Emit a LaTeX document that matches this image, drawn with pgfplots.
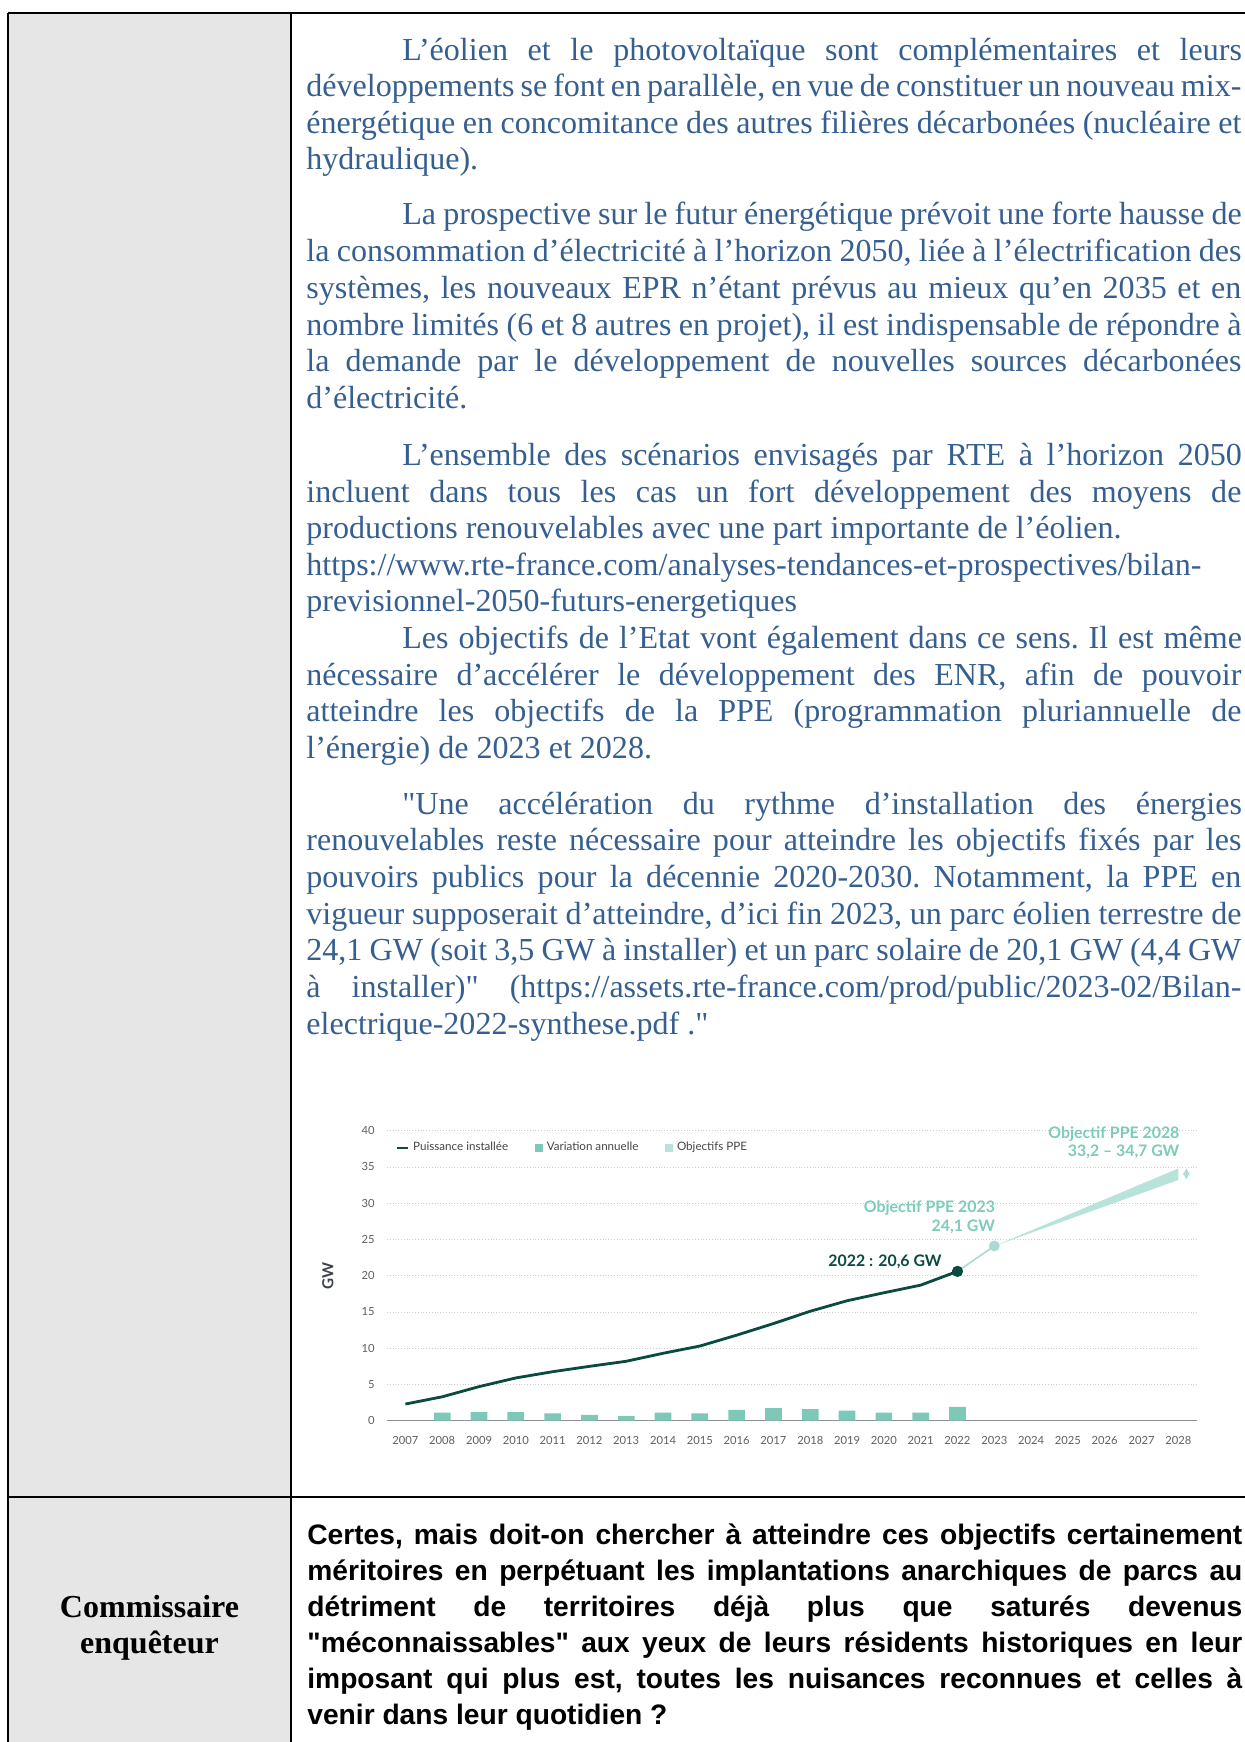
\documentclass[border=0pt]{standalone}
\usepackage{fontspec}
\newfontfamily\bodyrm{Liberation Serif}
\newfontfamily\lsans{Liberation Sans}
\newfontfamily\chart{Lato}
\usepackage{pgfplots}
\pgfplotsset{compat=1.18}
\definecolor{txtblue}{RGB}{54,95,145}
\definecolor{cellgray}{RGB}{230,230,230}
\definecolor{darkgreen}{RGB}{10,75,65}
\definecolor{barteal}{RGB}{125,200,183}
\definecolor{bandteal}{RGB}{183,227,218}
\definecolor{objmark}{RGB}{170,219,210}
\definecolor{objtext}{RGB}{124,203,187}
\definecolor{gridgray}{RGB}{205,205,205}
\definecolor{axgray}{RGB}{140,145,150}
\definecolor{tickgray}{RGB}{95,95,95}
\definecolor{gwgray}{RGB}{60,66,72}
\definecolor{legtext}{RGB}{70,70,70}
\newlength\calw
\newcommand\calib[4]{\settowidth\calw{#2\fontsize{10pt}{12pt}\selectfont #3}\pgfmathsetmacro#1{10*#4/\calw}}
\newcommand\bodyfont{\bodyrm\frenchspacing\fontsize{\bodysz pt}{\bodysz pt}\selectfont}
\newcommand\botfont{\lsans\bfseries\frenchspacing\fontsize{\botsz pt}{\botsz pt}\selectfont}
\newcommand\comfont{\bodyrm\bfseries\fontsize{\comsz pt}{\comsz pt}\selectfont}
\newcommand\tickfont{\chart\fontsize{\ticksz pt}{\ticksz pt}\selectfont}
\newcommand\legfont{\chart\fontsize{\legsz pt}{\legsz pt}\selectfont}
\newcommand\annfont{\chart\bfseries\fontsize{\annsz pt}{\annsz pt}\selectfont}
\newcommand\gwfont{\chart\bfseries\fontsize{\gwsz pt}{\gwsz pt}\selectfont}
\tikzset{body/.style={anchor=base west,inner sep=0pt,text=txtblue,font=\bodyfont},
  bot/.style={anchor=base west,inner sep=0pt,text=black,font=\botfont}}
\newcommand\FL[2]{\node[body] at (306,#1) {\makebox[467.5pt][s]{#2}};}
\newcommand\IL[2]{\node[body] at (402,#1) {\makebox[419.75pt][s]{#2}};}
\newcommand\NL[2]{\node[body] at (306,#1) {#2};}
\newcommand\BL[2]{\node[bot] at (307,#1) {\makebox[467.5pt][s]{#2}};}
\begin{document}%
\calib{\bodysz}{\bodyrm}{https://www.rte-france.com/analyses-tendances-et-prospectives/bilan-}{447.5}%
\calib{\botsz}{\lsans\bfseries}{venir dans leur quotidien ?}{180}%
\calib{\comsz}{\bodyrm\bfseries}{Commissaire}{89.5}%
\calib{\ticksz}{\chart}{2007}{13}%
\calib{\legsz}{\chart}{Puissance installée}{47.5}%
\calib{\annsz}{\chart\bfseries}{Objectif PPE 2028}{65.5}%
\calib{\gwsz}{\chart\bfseries}{GW}{13.5}%
\begin{tikzpicture}
\useasboundingbox (0pt,0pt) rectangle (622.5pt,-871pt);
\fill[white] (0pt,0pt) rectangle (622.5pt,-871pt);
\begin{scope}[x=0.5pt,y=-0.5pt]
\fill[cellgray] (8,13) rectangle (291,1742);
\draw[line width=1.4pt] (8,13) -- (1250,13);
\draw[line width=1.4pt] (8,13) -- (8,1750);
\draw[line width=1.4pt] (291,13) -- (291,1750);
\draw[line width=1.4pt] (8,1497) -- (1250,1497);
% P1
\IL{60.0}{L’éolien et le photovoltaïque sont complémentaires et leurs}
\FL{96.6}{développements se font en parallèle, en vue de constituer un nouveau mix-}
\FL{133.3}{énergétique en concomitance des autres filières décarbonées (nucléaire et}
\NL{169.9}{hydraulique).}
% P2
\IL{224.3}{La prospective sur le futur énergétique prévoit une forte hausse de}
\FL{261.2}{la consommation d’électricité à l’horizon 2050, liée à l’électrification des}
\FL{298.1}{systèmes, les nouveaux EPR n’étant prévus au mieux qu’en 2035 et en}
\FL{335.0}{nombre limités (6 et 8 autres en projet), il est indispensable de répondre à}
\FL{371.8}{la demande par le développement de nouvelles sources décarbonées}
\NL{408.7}{d’électricité.}
% P3
\IL{465.3}{L’ensemble des scénarios envisagés par RTE à l’horizon 2050}
\FL{502.0}{incluent dans tous les cas un fort développement des moyens de}
\NL{538.6}{productions renouvelables avec une part importante de l’éolien.}
\NL{575.3}{https://www.rte-france.com/analyses-tendances-et-prospectives/bilan-}
\NL{611.9}{previsionnel-2050-futurs-energetiques}
\IL{648.6}{Les objectifs de l’Etat vont également dans ce sens. Il est même}
\FL{685.2}{nécessaire d’accélérer le développement des ENR, afin de pouvoir}
\FL{721.9}{atteindre les objectifs de la PPE (programmation pluriannuelle de}
\NL{758.5}{l’énergie) de 2023 et 2028.}
% P4
\IL{814.1}{"Une accélération du rythme d’installation des énergies}
\FL{850.7}{renouvelables reste nécessaire pour atteindre les objectifs fixés par les}
\FL{887.4}{pouvoirs publics pour la décennie 2020-2030. Notamment, la PPE en}
\FL{924.0}{vigueur supposerait d’atteindre, d’ici fin 2023, un parc éolien terrestre de}
\FL{960.7}{24,1 GW (soit 3,5 GW à installer) et un parc solaire de 20,1 GW (4,4 GW}
\FL{997.3}{à installer)" (https://assets.rte-france.com/prod/public/2023-02/Bilan-}
\NL{1034.0}{electrique-2022-synthese.pdf ."}
% bottom row
\BL{1544}{Certes, mais doit-on chercher à atteindre ces objectifs certainement}
\BL{1580}{méritoires en perpétuant les implantations anarchiques de parcs au}
\BL{1616}{détriment de territoires déjà plus que saturés devenus}
\BL{1652}{"méconnaissables" aux yeux de leurs résidents historiques en leur}
\BL{1688}{imposant qui plus est, toutes les nuisances reconnues et celles à}
\node[bot] at (307,1724) {venir dans leur quotidien ?};
\node[anchor=base,inner sep=0pt,font=\comfont] at (149.5,1617) {Commissaire};
\node[anchor=base,inner sep=0pt,font=\comfont] at (149.5,1653) {enquêteur};
\end{scope}
\begin{axis}[
  at={(193.5pt,-710.35pt)}, anchor=south west,
  scale only axis, width=404.85pt, height=145pt,
  xmin=2006.5, xmax=2028.5, ymin=0, ymax=40,
  clip=false,
  axis x line=bottom, axis y line=left,
  x axis line style={draw=axgray, line width=0.7pt, -},
  y axis line style={draw=none, -},
  xtick={2007,2008,...,2028},
  ytick={0,5,...,40},
  major tick length=0pt, tick style={draw=none},
  /pgf/number format/assume math mode=true,
  x tick label style={/pgf/number format/1000 sep={}, font=\tickfont, text=tickgray, anchor=center, inner sep=0pt, yshift=-10pt},
  y tick label style={font=\tickfont, text=tickgray, anchor=east, inner sep=0pt, xshift=-6pt},
  ymajorgrids, grid style={gridgray, densely dotted, line width=0.4pt},
  legend columns=3, legend cell align=left,
  legend style={at={(axis description cs:0.0099,0.9403)}, anchor=west, draw=none, fill=none,
    inner sep=0pt, font=\legfont, text=legtext,
    /tikz/every even column/.append style={column sep=11.3pt}},
]
\addlegendimage{legend image code/.code={\draw[darkgreen, line width=1.4pt] (0pt,0pt) -- (5.5pt,0pt);}}
\addlegendentry{Puissance installée}
\addlegendimage{legend image code/.code={\fill[barteal] (0pt,-1.8pt) rectangle (3.6pt,1.8pt);}}
\addlegendentry{Variation annuelle}
\addlegendimage{legend image code/.code={\fill[bandteal] (0pt,-1.8pt) rectangle (3.6pt,1.8pt);}}
\addlegendentry{Objectifs PPE}
\addplot[ybar, bar width=8.35pt, bar shift=0pt, fill=barteal, draw=none, forget plot]
  coordinates {(2008,1.1) (2009,1.2) (2010,1.2) (2011,1.0) (2012,0.8) (2013,0.65) (2014,1.1) (2015,1.0) (2016,1.5) (2017,1.75) (2018,1.6) (2019,1.4) (2020,1.1) (2021,1.1) (2022,1.9)};
\addplot[fill=bandteal, draw=none, mark=none, forget plot]
  coordinates {(2023,24.1) (2028,34.8) (2028,33.2)} -- cycle;
\addplot[objmark, line width=0.8pt, mark=none, forget plot]
  coordinates {(2022,20.6) (2023,24.1)};
\addplot[only marks, mark=*, mark size=2.5pt, color=objmark, forget plot]
  coordinates {(2023,24.1)};
\addplot[darkgreen, line width=1.4pt, mark=none, forget plot]
  coordinates {(2007,2.3) (2008,3.3) (2009,4.7) (2010,5.9) (2011,6.76) (2012,7.5) (2013,8.2) (2014,9.3) (2015,10.3) (2016,11.8) (2017,13.4) (2018,15.1) (2019,16.55) (2020,17.65) (2021,18.7) (2022,20.6)};
\addplot[only marks, mark=*, mark size=2.6pt, color=darkgreen, forget plot]
  coordinates {(2022,20.6)};
\node[anchor=base east, inner sep=0pt, font=\annfont, text=darkgreen] at (axis cs:2021.58,21.24) {2022 : 20,6 GW};
\node[anchor=base east, inner sep=0pt, font=\annfont, text=objtext] at (axis cs:2023.03,28.71) {Objectif PPE 2023};
\node[anchor=base east, inner sep=0pt, font=\annfont, text=objtext] at (axis cs:2023.03,26.07) {24,1 GW};
\node[anchor=base east, inner sep=0pt, font=\annfont, text=objtext] at (axis cs:2028.04,38.95) {Objectif PPE 2028};
\node[anchor=base east, inner sep=0pt, font=\annfont, text=objtext] at (axis cs:2028.04,36.41) {33,2 – 34,7 GW};
\draw[objmark, <->, >=stealth, line width=0.5pt] (axis cs:2028.22,33.3) -- (axis cs:2028.22,34.8);
\node[rotate=90, inner sep=0pt, font=\gwfont, text=gwgray] at (axis description cs:-0.0729,0.5) {GW};
\end{axis}
\end{tikzpicture}%
\end{document}
